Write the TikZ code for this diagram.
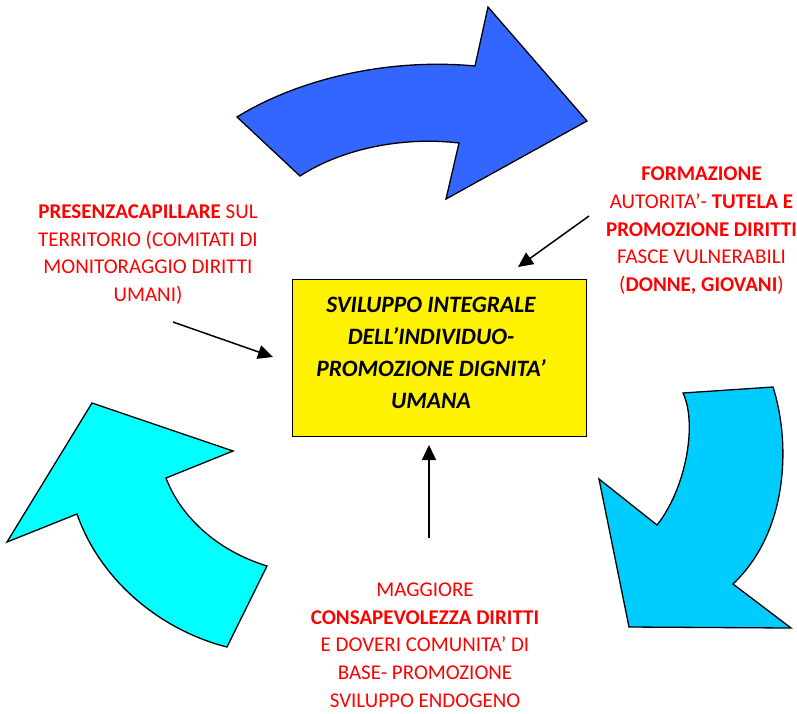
\documentclass[tikz,border=0pt]{standalone}
\usepackage{fontspec}
\setmainfont{Carlito}
\usetikzlibrary{arrows.meta,calc}
\definecolor{redtxt}{HTML}{FF0000}
\definecolor{bluearrow}{HTML}{3366FF}
\definecolor{skyarrow}{HTML}{00CCFF}
\definecolor{cyanarrow}{HTML}{00FFFF}
\tikzset{
  bigarrow/.style={draw=black, line width=1.3pt, line join=miter},
  redlabel/.style={text=redtxt, align=center, inner sep=0pt, anchor=base,
     font=\fontsize{21}{27.8}\selectfont},
  centerbox/.style={draw=black, line width=1.4pt, fill=yellow, minimum width=294.4pt,
     minimum height=157.4pt, inner sep=0pt},
  boxtext/.style={align=center, inner sep=0pt, anchor=base,
     font=\fontsize{23.5}{32}\selectfont\bfseries\itshape},
  conn/.style={draw=black, line width=1.5pt, -{Triangle[length=15pt,width=14pt]}}
}
\begin{document}
\begin{tikzpicture}[x=1pt,y=-1pt]
\useasboundingbox (0,0) rectangle (797,713);

% top blue curved arrow
\path[bigarrow, fill=bluearrow] (237,117)
  .. controls (300,78) and (390,58) .. (475,66)
  -- (488,7) -- (587,121) -- (446,199) -- (459,143)
  .. controls (400,136) and (340,150) .. (300,176) -- cycle;

% right sky-blue curved arrow
\path[bigarrow, fill=skyarrow] (683,393) -- (773,387)
  .. controls (790,440) and (790,530) .. (733,584)
  -- (791,628) -- (629,627) -- (599,479) -- (657,525)
  .. controls (685,490) and (698,425) .. (683,393) -- cycle;

% left cyan curved arrow
\path[bigarrow, fill=cyanarrow] (92,403) -- (233,451) -- (166,478)
  .. controls (180,515) and (215,550) .. (267,566)
  -- (227,647)
  .. controls (160,630) and (100,580) .. (77,514)
  -- (7,542) -- cycle;

% central box
\node[centerbox] (box) at (439.5,358) {};
\node[boxtext] (boxtxt) at (431,408.5) {SVILUPPO INTEGRALE\\DELL’INDIVIDUO-\\PROMOZIONE DIGNITA’\\UMANA};

% labels (anchored at the baseline of the last line)
\node[redlabel] (lefttxt) at (148,301.7) {\textbf{PRESENZACAPILLARE} SUL\\TERRITORIO (COMITATI DI\\MONITORAGGIO DIRITTI\\UMANI)};
\node[redlabel] (righttxt) at (701.5,291.7) {\textbf{FORMAZIONE}\\AUTORITA’- \textbf{TUTELA E}\\\textbf{PROMOZIONE DIRITTI}\\FASCE VULNERABILI\\(\textbf{DONNE, GIOVANI})};
\node[redlabel] (bottomtxt) at (425,707.5) {MAGGIORE\\\textbf{CONSAPEVOLEZZA DIRITTI}\\E DOVERI COMUNITA’ DI\\BASE- PROMOZIONE\\SVILUPPO ENDOGENO};

% connectors
\coordinate (lstart) at (173,322);
\coordinate (lend) at (273,357);
\coordinate (rstart) at (589,216);
\coordinate (rend) at (518,267);
\coordinate (bstart) at (429,538);
\coordinate (bend) at (429,445);
\draw[conn] (lstart) -- (lend);
\draw[conn] (rstart) -- (rend);
\draw[conn] (bstart) -- (bend);
\end{tikzpicture}
\end{document}
